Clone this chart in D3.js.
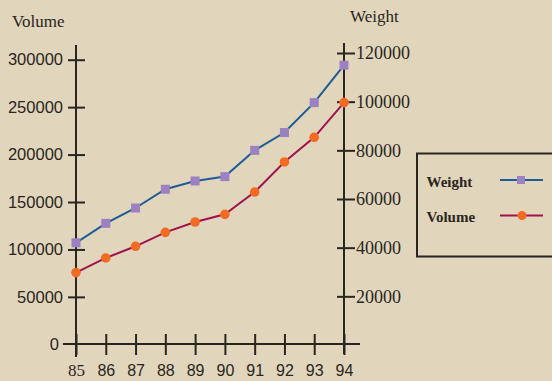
<!DOCTYPE html>
<html>
<head>
<meta charset="utf-8">
<script src="https://cdn.jsdelivr.net/npm/d3@7"></script>
<style>
  html, body { margin: 0; padding: 0; background: #e1d6bc; }
  svg { display: block; }
</style>
</head>
<body>
<svg id="chart" width="552" height="381"></svg>
<script>
// data
var years = ['85', '86', '87', '88', '89', '90', '91', '92', '93', '94'];
var weight = [42000, 50000, 56300, 64000, 67400, 69200, 80000, 87300, 99600, 115000];
var volume = [75600, 91000, 103300, 118000, 128900, 137000, 160500, 192200, 218200, 254700];
var volumeTicks = [0, 50000, 100000, 150000, 200000, 250000, 300000];
var weightTicks = [20000, 40000, 60000, 80000, 100000, 120000];

var axisColour = '#2b2521';
var serif = '"Liberation Serif", "Times New Roman", serif';
var sans = '"Liberation Sans", Arial, sans-serif';
var plain = d3.format('d');

var svg = d3.select('#chart');

var x = d3.scalePoint().domain(years).range([76, 344]);
var yLeft = d3.scaleLinear().domain([0, 300000]).range([344.3, 59.7]);
var yRight = d3.scaleLinear().domain([0, 120000]).range([345, 53]);

// x axis
var xAxis = svg.append('g').attr('transform', 'translate(0,344)')
    .call(d3.axisBottom(x).tickSize(0).tickPadding(0));
xAxis.select('.domain').remove();
xAxis.append('line').attr('x1', 63).attr('x2', 360)
    .attr('stroke', axisColour).attr('stroke-width', 2);
xAxis.selectAll('.tick line').attr('y1', -10).attr('y2', 11)
    .attr('stroke', axisColour).attr('stroke-width', 2);
xAxis.selectAll('.tick text')
    .attr('y', 32).attr('dy', null)
    .attr('fill', '#2b2521')
    .style('font-family', function (d, i) { return i === 0 ? serif : sans; })
    .style('font-size', function (d, i) { return i === 0 ? '17px' : '16px'; });

// left axis (volume)
var leftAxis = svg.append('g').attr('transform', 'translate(76,0)')
    .call(d3.axisLeft(yLeft).tickValues(volumeTicks).tickFormat(plain).tickSize(0).tickPadding(13));
leftAxis.select('.domain').remove();
leftAxis.append('line').attr('y1', 45).attr('y2', 357)
    .attr('stroke', axisColour).attr('stroke-width', 2);
leftAxis.selectAll('.tick line').attr('x1', -8).attr('x2', 9)
    .attr('stroke', axisColour).attr('stroke-width', 2)
    .attr('display', function (d) { return d === 0 ? 'none' : null; });
leftAxis.selectAll('.tick text')
    .attr('fill', '#2b2521')
    .style('font-family', sans).style('font-size', '16.5px')
    .attr('x', function (d) { return d === 0 ? -17 : -13; });

// right axis (weight)
var rightAxis = svg.append('g').attr('transform', 'translate(344,0)')
    .call(d3.axisRight(yRight).tickValues(weightTicks).tickFormat(plain).tickSize(0).tickPadding(12));
rightAxis.select('.domain').remove();
rightAxis.append('line').attr('y1', 43).attr('y2', 354)
    .attr('stroke', axisColour).attr('stroke-width', 2);
rightAxis.selectAll('.tick line').attr('x1', -7).attr('x2', 11)
    .attr('stroke', axisColour).attr('stroke-width', 2);
rightAxis.selectAll('.tick text')
    .attr('fill', '#2b2521')
    .style('font-family', serif).style('font-size', '18px');

// axis titles
svg.append('text').attr('x', 12).attr('y', 27).text('Volume')
    .attr('fill', '#2b2521').style('font-family', serif).style('font-size', '17px');
svg.append('text').attr('x', 350).attr('y', 22).text('Weight')
    .attr('fill', '#2b2521').style('font-family', serif).style('font-size', '17px');

// series
var series = [
    { name: 'Weight', values: weight, scale: yRight, line: '#1d5c96', marker: '#9b80c2', shape: 'square' },
    { name: 'Volume', values: volume, scale: yLeft, line: '#a0124e', marker: '#f36b22', shape: 'circle' }
];

series.forEach(function (s) {
    var line = d3.line()
        .x(function (d, i) { return x(years[i]); })
        .y(function (d) { return s.scale(d); });
    svg.append('path').datum(s.values)
        .attr('d', line).attr('fill', 'none')
        .attr('stroke', s.line).attr('stroke-width', 2);
    var g = svg.append('g');
    if (s.shape === 'square') {
        g.selectAll('rect').data(s.values).enter().append('rect')
            .attr('x', function (d, i) { return x(years[i]) - 4.5; })
            .attr('y', function (d) { return s.scale(d) - 4.5; })
            .attr('width', 9).attr('height', 9)
            .attr('fill', s.marker);
    } else {
        g.selectAll('circle').data(s.values).enter().append('circle')
            .attr('cx', function (d, i) { return x(years[i]); })
            .attr('cy', function (d) { return s.scale(d); })
            .attr('r', 4.8)
            .attr('fill', s.marker);
    }
});

// legend
var legend = svg.append('g').attr('class', 'legend');
legend.append('rect').attr('x', 417).attr('y', 153.5).attr('width', 150).attr('height', 103)
    .attr('fill', 'none').attr('stroke', axisColour).attr('stroke-width', 2);
series.forEach(function (s, i) {
    var cy = 180 + i * 35.5;
    legend.append('text').attr('x', 426.5).attr('y', cy + 6.5).text(s.name)
        .attr('fill', '#2b2521').style('font-family', serif)
        .style('font-size', '15px').style('font-weight', 'bold');
    legend.append('line').attr('x1', 500).attr('x2', 543).attr('y1', cy).attr('y2', cy)
        .attr('stroke', s.line).attr('stroke-width', 2);
    if (s.shape === 'square') {
        legend.append('rect').attr('x', 517).attr('y', cy - 4).attr('width', 8).attr('height', 8)
            .attr('fill', s.marker);
    } else {
        legend.append('circle').attr('cx', 522).attr('cy', cy).attr('r', 4.5)
            .attr('fill', s.marker);
    }
});
</script>
</body>
</html>
